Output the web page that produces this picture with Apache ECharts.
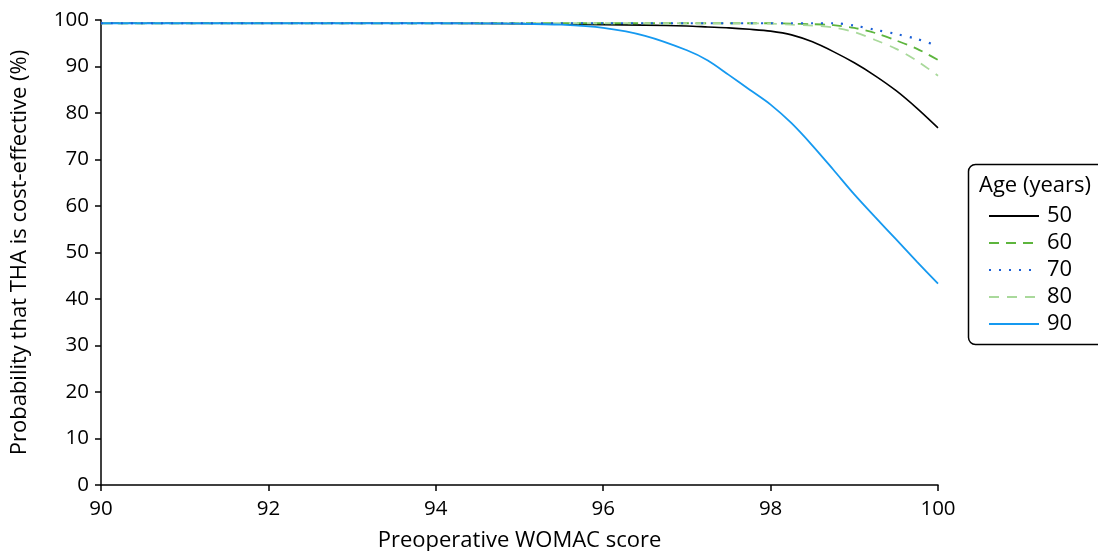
<!DOCTYPE html>
<html><head><meta charset="utf-8">
<script src="https://cdn.jsdelivr.net/npm/echarts@6/dist/echarts.min.js"></script>
<style>html,body{margin:0;padding:0;background:#fff}#c{width:1098px;height:551px}</style>
</head><body><div id="c"></div>
<script>
const xs = [90, 91, 92, 93, 94, 95, 95.5, 96, 96.5, 97, 97.25, 97.5, 97.75, 98, 98.25, 98.5, 98.75, 99, 99.25, 99.5, 99.75, 100];
const age50 = [99.3, 99.3, 99.3, 99.3, 99.3, 99.2, 99.1, 99.0, 98.9, 98.7, 98.5, 98.3, 98.0, 97.6, 96.8, 95.3, 93.2, 90.8, 88.0, 84.8, 81.0, 76.8];
const age60 = [99.3, 99.3, 99.3, 99.3, 99.3, 99.3, 99.3, 99.3, 99.3, 99.3, 99.3, 99.3, 99.3, 99.3, 99.2, 99.1, 98.9, 98.3, 97.2, 95.6, 93.8, 91.4];
const age70 = [99.3, 99.3, 99.3, 99.3, 99.3, 99.3, 99.3, 99.3, 99.3, 99.3, 99.3, 99.3, 99.3, 99.3, 99.3, 99.3, 99.3, 98.8, 97.9, 97.0, 95.9, 94.4];
const age80 = [99.3, 99.3, 99.3, 99.3, 99.3, 99.3, 99.3, 99.3, 99.3, 99.3, 99.3, 99.3, 99.3, 99.2, 99.0, 98.8, 98.4, 97.4, 95.7, 93.8, 91.2, 88.0];
const age90 = [99.3, 99.3, 99.3, 99.3, 99.3, 99.2, 99.0, 98.3, 96.6, 93.5, 91.3, 88.2, 85.0, 81.8, 77.8, 73.0, 67.8, 62.5, 57.6, 52.8, 48.0, 43.3];
const seriesNames = ['50', '60', '70', '80', '90'];
const xTicks = [90, 92, 94, 96, 98, 100];
const yTicks = [0, 10, 20, 30, 40, 50, 60, 70, 80, 90, 100];

const FONT = '"Open Sans", "Noto Sans", sans-serif';
const FT = 20.5;  // tick labels
const FN = 22;    // names, legend
const styles = [
  {color: '#000000', type: 'solid', width: 1.6},
  {color: '#5db53d', type: [10, 7], width: 1.8},
  {color: '#1a5fd6', type: [2, 8], width: 2.2},
  {color: '#a9d99b', type: [10, 8], width: 1.8},
  {color: '#1599f0', type: 'solid', width: 1.8}
];
const vals = [age50, age60, age70, age80, age90];

const chart = echarts.init(document.getElementById('c'), null, {renderer: 'canvas'});
chart.setOption({
  animation: false,
  backgroundColor: '#fff',
  grid: {left: 101, right: 160, top: 20, bottom: 66, containLabel: false, outerBoundsMode: 'none'},
  xAxis: {
    type: 'value', min: 90, max: 100, interval: 2,
    name: 'Preoperative WOMAC score', nameLocation: 'middle', nameGap: 45,
    nameTextStyle: {fontFamily: FONT, fontSize: FN, color: '#000'},
    axisLine: {show: true, lineStyle: {color: '#000', width: 1.5}},
    axisTick: {show: true, length: 6, lineStyle: {color: '#000', width: 1.5}},
    axisLabel: {fontFamily: FONT, fontSize: FT, color: '#000', margin: 14,
      formatter: v => xTicks.includes(v) ? String(v) : ''},
    splitLine: {show: false}
  },
  yAxis: {
    type: 'value', min: 0, max: 100, interval: 10,
    name: 'Probability that THA is cost-effective (%)', nameLocation: 'middle', nameGap: 70,
    nameTextStyle: {fontFamily: FONT, fontSize: FN, color: '#000'},
    axisLine: {show: true, lineStyle: {color: '#000', width: 1.5}},
    axisTick: {show: true, length: 6, lineStyle: {color: '#000', width: 1.5}},
    axisLabel: {fontFamily: FONT, fontSize: FT, color: '#000', margin: 12,
      formatter: v => yTicks.includes(v) ? String(v) : ''},
    splitLine: {show: false}
  },
  legend: {
    orient: 'vertical', left: 983, top: 200,
    itemWidth: 50, itemHeight: 22, itemGap: 5,
    itemStyle: {opacity: 0, borderWidth: 0},
    textStyle: {fontFamily: FONT, fontSize: FN, lineHeight: 22, color: '#000', padding: [0, 0, 0, 3]},
    data: seriesNames
  },
  graphic: [
    {type: 'rect', left: 966, top: 162, shape: {width: 150, height: 180, r: 7},
      style: {fill: 'none', stroke: '#000', lineWidth: 1.5}},
    {type: 'text', left: 979, top: 175, style: {text: 'Age (years)', fontFamily: FONT, fontSize: FN, fill: '#000'}}
  ],
  series: seriesNames.map((n, i) => ({
    name: n, type: 'line', smooth: 0.3, showSymbol: false, symbol: 'none',
    data: xs.map((x, j) => [x, vals[i][j]]),
    lineStyle: styles[i], itemStyle: {color: styles[i].color},
    z: i === 2 ? 5 : 2
  }))
});
</script></body></html>
